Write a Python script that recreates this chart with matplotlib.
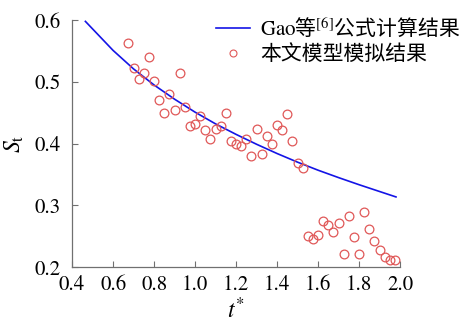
import matplotlib
matplotlib.use("Agg")
import matplotlib.pyplot as plt
from matplotlib.lines import Line2D

plt.rcParams['mathtext.fontset'] = 'stix'
plt.rcParams['font.family'] = ['STIXGeneral', 'Noto Sans CJK SC', 'DejaVu Sans']

# Gao et al. formula curve
gao_t = [0.465, 0.6, 0.7, 0.8, 0.9, 1.0, 1.1, 1.2, 1.3, 1.4, 1.5, 1.6, 1.7, 1.8, 1.9, 1.98]
gao_s = [0.598, 0.551, 0.521, 0.495, 0.472, 0.451, 0.432, 0.415, 0.399, 0.384,
         0.370, 0.357, 0.345, 0.3335, 0.3225, 0.3137]

# model simulation results
sim_t = [0.675, 0.700, 0.725, 0.750, 0.775, 0.800, 0.825, 0.850, 0.875, 0.900,
         0.925, 0.950, 0.975, 1.000, 1.025, 1.050, 1.075, 1.100, 1.125, 1.150,
         1.175, 1.200, 1.225, 1.250, 1.275, 1.300, 1.325, 1.350, 1.375, 1.400,
         1.425, 1.450, 1.475, 1.500, 1.525, 1.550, 1.575, 1.600, 1.625, 1.650,
         1.675, 1.700, 1.725, 1.750, 1.775, 1.800, 1.825, 1.850, 1.875, 1.900,
         1.925, 1.950, 1.975]
sim_s = [0.563, 0.522, 0.505, 0.515, 0.540, 0.502, 0.470, 0.450, 0.480, 0.454,
         0.514, 0.459, 0.429, 0.432, 0.445, 0.422, 0.407, 0.424, 0.428, 0.449,
         0.404, 0.399, 0.396, 0.407, 0.380, 0.423, 0.384, 0.413, 0.399, 0.431,
         0.422, 0.448, 0.404, 0.369, 0.361, 0.250, 0.245, 0.252, 0.274, 0.268,
         0.257, 0.272, 0.222, 0.283, 0.249, 0.221, 0.289, 0.262, 0.242, 0.227,
         0.217, 0.212, 0.212]

xticks = [0.4, 0.6, 0.8, 1.0, 1.2, 1.4, 1.6, 1.8, 2.0]
yticks = [0.2, 0.3, 0.4, 0.5, 0.6]

fig = plt.figure(figsize=(4.62, 3.25), dpi=100)
ax = fig.add_axes([0.156, 0.178, 0.710, 0.760])

red = '#e05858'
blue = '#1414e6'
ax.plot(gao_t, gao_s, color=blue, lw=1.2, zorder=2)
ax.plot(sim_t, sim_s, ls='none', marker='o', ms=6.3, mfc='none', mec=red, mew=0.9, zorder=3)

ax.set_xlim(0.4, 2.0)
ax.set_ylim(0.2, 0.6)
ax.set_xticks(xticks)
ax.set_yticks(yticks)
ax.set_xticklabels([f'{v:.1f}' for v in xticks], fontfamily='STIXGeneral')
ax.set_yticklabels([f'{v:.1f}' for v in yticks], fontfamily='STIXGeneral')
ax.tick_params(direction='in', length=4, width=0.8, color='#707070', labelsize=15)
ax.tick_params(axis='y', pad=8)
ax.tick_params(axis='x', pad=6)
for s in ['top', 'right']:
    ax.spines[s].set_visible(False)
for s in ['left', 'bottom']:
    ax.spines[s].set_color('#707070')
    ax.spines[s].set_linewidth(0.9)

ax.set_xlabel(r'$t^{*}$', fontsize=17, labelpad=2)
ax.set_ylabel(r'$S_{\mathrm{t}}$', fontsize=17, labelpad=6)

handles = [Line2D([], [], color=blue, lw=1.2),
           Line2D([], [], ls='none', marker='o', ms=5, mfc='none', mec=red, mew=0.8)]
labels = [r'$\mathrm{Gao}$等$^{[6]}$公式计算结果', '本文模型模拟结果']
leg = ax.legend(handles, labels, loc='upper right', bbox_to_anchor=(1.0, 0.955),
                bbox_transform=fig.transFigure, frameon=False,
                prop={'family': ['Noto Sans CJK SC', 'DejaVu Sans'], 'size': 15},
                handlelength=1.65, handletextpad=0.45, labelspacing=0.15,
                borderaxespad=0.0, borderpad=0.1)

fig.savefig('out.png', dpi=100)
